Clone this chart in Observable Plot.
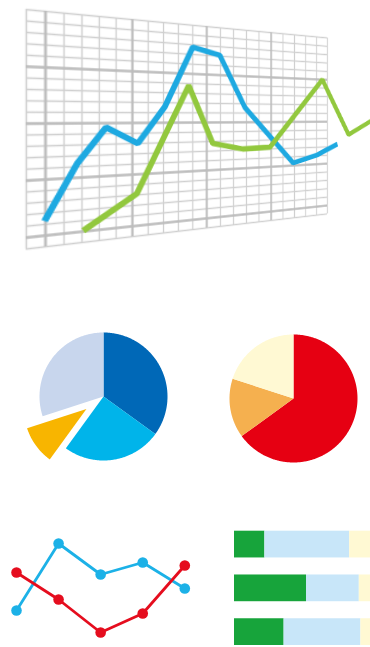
<!DOCTYPE html>
<html><head><meta charset="utf-8">
<script src="https://cdn.jsdelivr.net/npm/d3@7"></script>
<script src="https://cdn.jsdelivr.net/npm/@observablehq/plot@0.6"></script>
<style>
html,body{margin:0;padding:0;background:#fff;}
#stage{position:relative;width:370px;height:647px;overflow:hidden;background:#fff;}
#stage > svg{position:absolute;overflow:visible;max-width:none;background:transparent;}
</style></head><body><div id="stage"></div>
<script>
// ---------- data ----------
// perspective line chart (grid units)
const gridCols = d3.range(0, 22);
const gridRows = d3.range(0, 22);
const gridMajor = [1, 6, 11, 16];
const blueX = [0.95, 2.73, 4.4, 6.34, 8.09, 10.0, 11.96, 13.88, 17.88, 20.06, 21.97];
const blueY = [2.3, 7.3, 10.6, 9.0, 12.6, 18.75, 18.1, 12.6, 6.3, 7.1, 8.3];
const greenX = [3.07, 6.28, 9.72, 11.44, 13.72, 15.91, 20.53, 23.07, 26.4];
const greenY = [1.07, 4.13, 14.8, 8.8, 8.1, 8.2, 16.0, 9.4, 11.8];
// pies
const leftPieSlices = ["A", "B", "C", "D"];
const leftPieValues = [35, 25, 10, 30];
const leftPieExploded = ["C"];
const rightPieSlices = ["A", "B", "C"];
const rightPieValues = [65, 15, 20];
// small line chart
const dotX = [0, 1, 2, 3, 4];
const dotBlue = [40, 107, 76, 88, 62];
const dotRed = [78, 51, 18, 37, 85];
// stacked bars
const barRows = ["1", "2", "3"];
const barGreen = [19, 45, 31];
const barBlue = [53, 33, 48];
const barCream = [28, 22, 21];

// ---------- palette ----------
const leftPieColors = ["#0068b7", "#00b4ea", "#f8b500", "#c8d6ed"];
const rightPieColors = ["#e60012", "#f5b04f", "#fff9d3"];
const barColors = ["#17a43b", "#c8e6f9", "#fff9d3"];

const stage = document.getElementById("stage");
function place(svg, left, top) {
  svg.style.left = left + "px";
  svg.style.top = top + "px";
  stage.appendChild(svg);
  return svg;
}

// ---------- 1. perspective line chart ----------
const KX = 15, KY = 10, M = 10;
const chart = Plot.plot({
  width: M + 27 * KX + M, height: M + 21 * KY + M,
  marginLeft: 0, marginRight: 0, marginTop: 0, marginBottom: 0,
  x: {domain: [0, 27], range: [M, M + 27 * KX], axis: null},
  y: {domain: [0, 21], range: [M + 21 * KY, M], axis: null},
  marks: [
    Plot.ruleX(gridCols.filter(d => !gridMajor.includes(d)), {x: d => d, y1: 0, y2: 21, stroke: "#d0d0d0", strokeWidth: 1.3}),
    Plot.ruleY(gridRows.filter(d => !gridMajor.includes(d)), {y: d => d, x1: 0, x2: 21, stroke: "#d0d0d0", strokeWidth: 1.6}),
    Plot.ruleX(gridMajor, {x: d => d, y1: 0, y2: 21, stroke: "#bdbdbd", strokeWidth: 2.2}),
    Plot.ruleY(gridMajor, {y: d => d, x1: 0, x2: 21, stroke: "#bdbdbd", strokeWidth: 2.6}),
    Plot.line(blueX.map((x, i) => ({x, y: blueY[i]})), {x: "x", y: "y", stroke: "#1ea9e1", strokeWidth: 5.8, strokeLinejoin: "miter", strokeLinecap: "butt"}),
    Plot.line(greenX.map((x, i) => ({x, y: greenY[i]})), {x: "x", y: "y", stroke: "#92c83e", strokeWidth: 5.8, strokeLinejoin: "miter", strokeLinecap: "butt"})
  ]
});
chart.style.transformOrigin = "0 0";
place(chart, 0, 0);

function homography(src, dst) {
  const A = [], b = [];
  for (let i = 0; i < 4; i++) {
    const [x, y] = src[i], [X, Y] = dst[i];
    A.push([x, y, 1, 0, 0, 0, -x * X, -y * X]); b.push(X);
    A.push([0, 0, 0, x, y, 1, -x * Y, -y * Y]); b.push(Y);
  }
  const n = 8;
  for (let c = 0; c < n; c++) {
    let p = c;
    for (let r = c + 1; r < n; r++) if (Math.abs(A[r][c]) > Math.abs(A[p][c])) p = r;
    [A[c], A[p]] = [A[p], A[c]]; [b[c], b[p]] = [b[p], b[c]];
    for (let r = 0; r < n; r++) {
      if (r === c) continue;
      const f = A[r][c] / A[c][c];
      for (let k = c; k < n; k++) A[r][k] -= f * A[c][k];
      b[r] -= f * b[c];
    }
  }
  return b.map((v, i) => v / A[i][i]);
}
{
  let sx, sy;
  try { sx = chart.scale("x").apply; sy = chart.scale("y").apply; } catch (e) {}
  if (!sx) sx = u => M + u * KX;
  if (!sy) sy = v => M + (21 - v) * KY;
  const src = [[sx(0), sy(21)], [sx(21), sy(21)], [sx(0), sy(0)], [sx(21), sy(0)]];
  const dst = [[25.7, 9], [327, 37.5], [25.7, 248.5], [327, 213.5]];
  const h = homography(src, dst);
  chart.style.transform = `matrix3d(${h[0]},${h[3]},0,${h[6]},${h[1]},${h[4]},0,${h[7]},0,0,1,0,${h[2]},${h[5]},0,1)`;
}

// ---------- 2. pies ----------
function pieRows(slices, values, colors, exploded) {
  const arcs = d3.pie().sort(null)(values);
  const rows = [];
  arcs.forEach((a, i) => {
    const ex = exploded.includes(slices[i]);
    const mid = (a.startAngle + a.endAngle) / 2;
    const off = ex ? 0.33 : 0, r = ex ? 0.975 : 1;
    const cx = off * Math.sin(mid), cy = off * Math.cos(mid);
    const steps = Math.max(2, Math.ceil((a.endAngle - a.startAngle) / 0.01));
    rows.push({slice: slices[i], color: colors[i], x: cx, y: cy});
    for (let s = 0; s <= steps; s++) {
      const t = a.startAngle + (a.endAngle - a.startAngle) * s / steps;
      rows.push({slice: slices[i], color: colors[i], x: cx + r * Math.sin(t), y: cy + r * Math.cos(t)});
    }
    rows.push({slice: slices[i], color: colors[i], x: cx, y: cy});
  });
  return rows;
}
function pie(slices, values, colors, exploded) {
  const rows = pieRows(slices, values, colors, exploded);
  const ext = 70 / 64;
  return Plot.plot({
    width: 140, height: 140,
    marginLeft: 0, marginRight: 0, marginTop: 0, marginBottom: 0,
    x: {domain: [-ext, ext], axis: null},
    y: {domain: [-ext, ext], axis: null},
    marks: slices.map(s => Plot.line(rows.filter(d => d.slice === s), {
      x: "x", y: "y", fill: rows.find(d => d.slice === s).color, stroke: "none", curve: "linear"
    }))
  });
}
place(pie(leftPieSlices, leftPieValues, leftPieColors, leftPieExploded), 103.3 - 70, 396 - 70);
place(pie(rightPieSlices, rightPieValues, rightPieColors, []), 293.3 - 70, 398.3 - 70);

// ---------- 3. small line chart ----------
const blueDots = dotX.map((x, i) => ({x, y: dotBlue[i]}));
const redDots = dotX.map((x, i) => ({x, y: dotRed[i]}));
const small = Plot.plot({
  width: 200, height: 130,
  marginLeft: 0, marginRight: 0, marginTop: 0, marginBottom: 0,
  x: {domain: [0, 4], range: [16, 184.3], axis: null},
  y: {domain: [0, 130], axis: null},
  marks: [
    Plot.line(blueDots, {x: "x", y: "y", stroke: "#1cb1e7", strokeWidth: 2.8}),
    Plot.dot(blueDots, {x: "x", y: "y", r: 5.3, fill: "#1cb1e7", stroke: "none"}),
    Plot.line(redDots, {x: "x", y: "y", stroke: "#e50d1e", strokeWidth: 2.8}),
    Plot.dot(redDots, {x: "x", y: "y", r: 5.3, fill: "#e50d1e", stroke: "none"})
  ]
});
place(small, 0, 520);

// ---------- 4. stacked bars ----------
const barData = [];
barRows.forEach((row, i) => {
  barData.push({row, seg: "green", value: barGreen[i], color: barColors[0]});
  barData.push({row, seg: "blue", value: barBlue[i], color: barColors[1]});
  barData.push({row, seg: "cream", value: barCream[i], color: barColors[2]});
});
const bars = Plot.plot({
  width: 160, height: 130,
  marginLeft: 0, marginRight: 0, marginTop: 0, marginBottom: 0,
  color: {type: "identity"},
  x: {domain: [0, 100], range: [0, 160], axis: null},
  y: {domain: barRows, range: [10.7, 125], paddingInner: 0.389, paddingOuter: 0, round: false, axis: null},
  marks: [
    Plot.barX(barData, Plot.stackX({x: "value", y: "row", z: "seg", fill: "color", inset: 0}))
  ]
});
place(bars, 234.3, 520);
</script>
</body></html>
